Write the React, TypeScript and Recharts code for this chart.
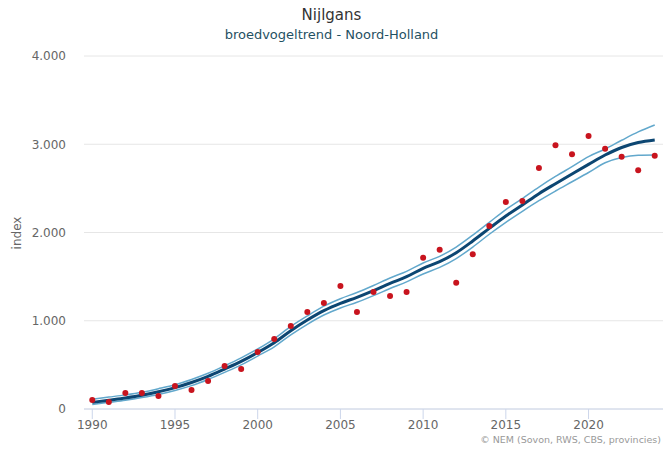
import { ComposedChart, Line, XAxis, YAxis, CartesianGrid } from 'recharts'

// years 1990 - 2024
const years = [
  1990, 1991, 1992, 1993, 1994, 1995, 1996, 1997, 1998, 1999,
  2000, 2001, 2002, 2003, 2004, 2005, 2006, 2007, 2008, 2009,
  2010, 2011, 2012, 2013, 2014, 2015, 2016, 2017, 2018, 2019,
  2020, 2021, 2022, 2023, 2024,
]

// yearly index values (red dots)
const observed = [
  102, 79, 181, 181, 147, 260, 215, 317, 487, 453,
  646, 793, 940, 1099, 1201, 1394, 1099, 1326, 1280, 1326,
  1714, 1805, 1431, 1753, 2074, 2346, 2357, 2731, 2988, 2886,
  3093, 2950, 2859, 2705, 2870,
]

// smoothed trend + confidence band
const trend = [
  75, 100, 125, 155, 195, 242, 300, 370, 453, 540,
  640, 751, 887, 1008, 1114, 1197, 1265, 1341, 1424, 1499,
  1594, 1669, 1771, 1904, 2047, 2187, 2312, 2440, 2553, 2663,
  2772, 2878, 2963, 3019, 3048,
]
const lower = [
  50, 75, 100, 130, 165, 210, 265, 335, 415, 500,
  600, 705, 840, 960, 1065, 1145, 1210, 1285, 1365, 1440,
  1530, 1605, 1705, 1835, 1980, 2115, 2240, 2360, 2470, 2575,
  2680, 2790, 2850, 2875, 2878,
]
const upper = [
  110, 135, 160, 190, 230, 275, 335, 405, 490, 580,
  680, 795, 935, 1055, 1165, 1250, 1320, 1400, 1485, 1560,
  1655, 1730, 1835, 1970, 2115, 2260, 2385, 2515, 2635, 2746,
  2860, 2946, 3045, 3140, 3218,
]

const xTicks = [1990, 1995, 2000, 2005, 2010, 2015, 2020]
const yTicks = [0, 1000, 2000, 3000, 4000]

const data = years.map((year, i) => ({
  year,
  observed: observed[i],
  trend: trend[i],
  lower: lower[i],
  upper: upper[i],
}))

const fmt = (v: number) => String(v).replace(/\B(?=(\d{3})+(?!\d))/g, '.')

const font = '"DejaVu Sans", sans-serif'

export default function App() {
  return (
    <div
      style={{
        position: 'absolute',
        left: 0,
        top: 0,
        width: 663,
        height: 449,
        overflow: 'hidden',
        background: '#fff',
        fontFamily: font,
      }}
    >
      <div style={{ position: 'absolute', top: 6, width: '100%', textAlign: 'center', fontSize: 15, color: '#333' }}>
        Nijlgans
      </div>
      <div style={{ position: 'absolute', top: 27, width: '100%', textAlign: 'center', fontSize: 13, color: '#1f5163' }}>
        broedvogeltrend - Noord-Holland
      </div>
      <div
        style={{
          position: 'absolute',
          left: 17,
          top: 233,
          transform: 'translate(-50%, -50%) rotate(-90deg)',
          fontSize: 12,
          color: '#666',
          whiteSpace: 'nowrap',
        }}
      >
        index
      </div>

      <ComposedChart width={663} height={449} data={data} margin={{ top: 56, right: 0, bottom: 10, left: 0 }}>
        <CartesianGrid vertical={false} stroke="#e6e6e6" />
        <XAxis
          dataKey="year"
          type="number"
          domain={[1989.5, 2024.5]}
          ticks={xTicks}
          height={30}
          stroke="#ccd6eb"
          tickSize={10}
          tickMargin={1}
          tick={{ fill: '#666', fontSize: 12, fontFamily: font }}
        />
        <YAxis
          type="number"
          domain={[0, 4000]}
          ticks={yTicks}
          width={84}
          axisLine={false}
          tickLine={false}
          tickSize={0}
          tickMargin={18}
          tickFormatter={fmt}
          tick={{ fill: '#666', fontSize: 12, fontFamily: font }}
        />
        <Line type="monotone" dataKey="lower" stroke="#62a8cc" strokeWidth={1.5} dot={false} activeDot={false} isAnimationActive={false} />
        <Line type="monotone" dataKey="upper" stroke="#62a8cc" strokeWidth={1.5} dot={false} activeDot={false} isAnimationActive={false} />
        <Line type="monotone" dataKey="trend" stroke="#0c4672" strokeWidth={3} dot={false} activeDot={false} isAnimationActive={false} />
        <Line
          type="monotone"
          dataKey="observed"
          stroke="none"
          dot={{ r: 3, fill: '#c8141e', stroke: 'none' }}
          activeDot={false}
          isAnimationActive={false}
        />
      </ComposedChart>

      <div style={{ position: 'absolute', right: 2, top: 434, fontSize: 9.5, color: '#999', whiteSpace: 'nowrap' }}>
        © NEM (Sovon, RWS, CBS, provincies)
      </div>
    </div>
  )
}
